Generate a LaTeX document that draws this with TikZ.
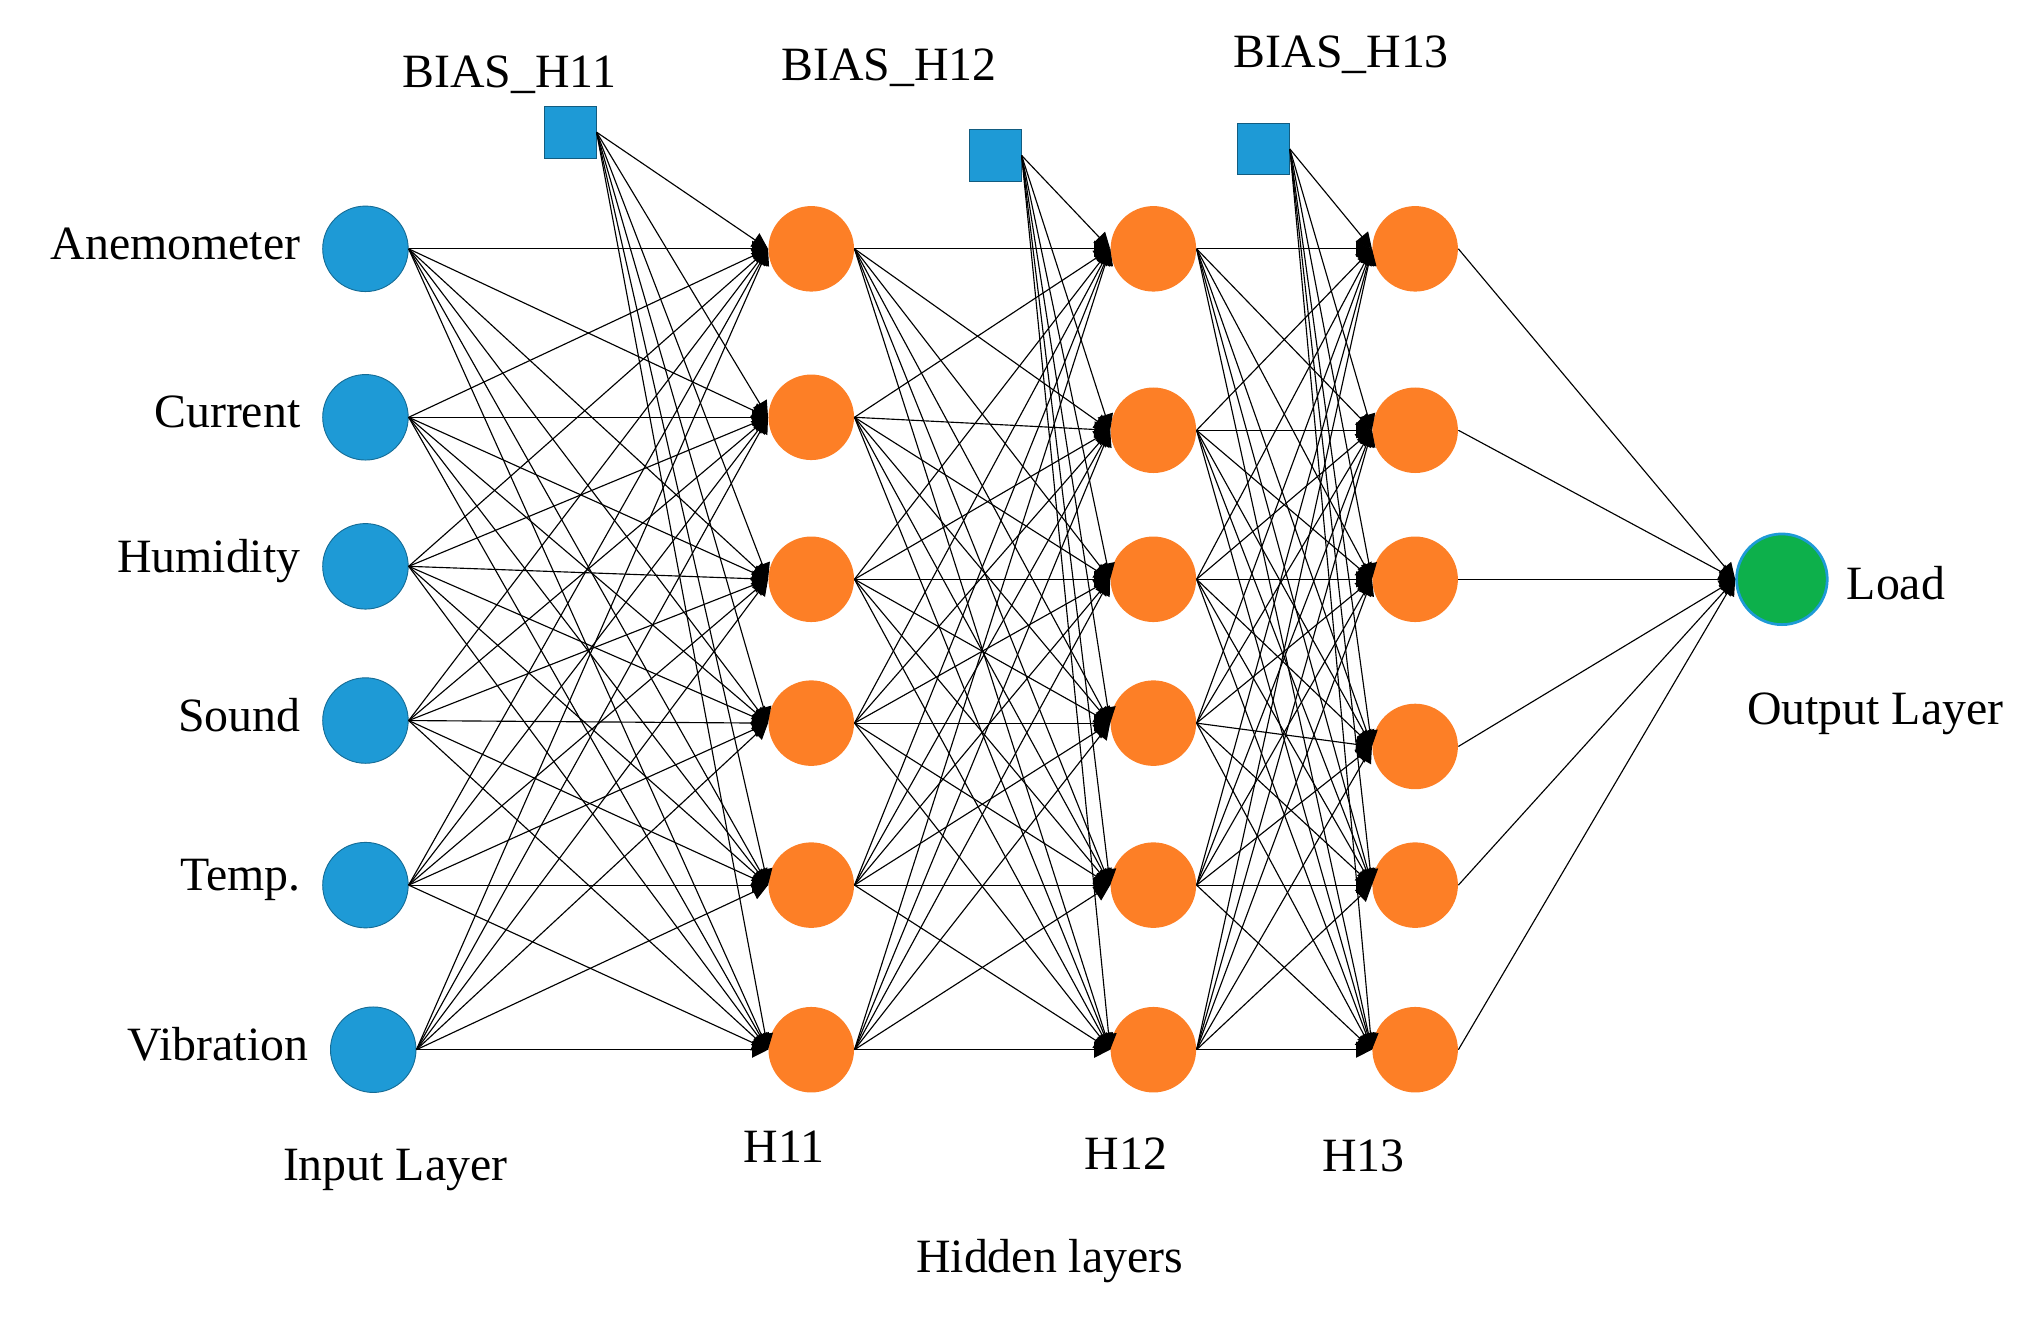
\documentclass[tikz,border=0pt]{standalone}
\usepackage{fontspec}
\setmainfont{Liberation Serif}
\usetikzlibrary{arrows.meta}
\definecolor{cblue}{HTML}{1E9AD6}
\definecolor{corange}{HTML}{FD7F26}
\definecolor{cgreen}{HTML}{0DB04B}
\begin{document}
\begin{tikzpicture}[x=0.02cm,y=-0.02cm,
  inp/.style={circle,fill=cblue,draw=cblue!70!black,minimum size=1.32cm,inner sep=0},
  hid/.style={circle,fill=corange,minimum size=1.32cm,inner sep=0},
  bias/.style={rectangle,fill=cblue,draw=cblue!60!black,minimum size=0.8cm,inner sep=0},
  lab/.style={font=\fontsize{21}{24}\selectfont},
  con/.style={line width=0.5pt,-{Triangle[length=7pt,width=7pt]}}]
\useasboundingbox (0,0) rectangle (1568,1018);
% input
\foreach \i/\y/\x/\t in {1/192/282/Anemometer,2/322/282/Current,3/437/282/Humidity,4/556/282/Sound,5/683/282/Temp.,6/810/288/Vibration}{
  \node[inp] (i\i) at (\x,\y) {};
  \node[lab,anchor=east] at (\x-44,\y-4) {\t};
}
\foreach \i/\y in {1/192,2/322,3/447,4/558,5/683,6/810} \node[hid] (a\i) at (626,\y) {};
\foreach \i/\y in {1/192,2/332,3/447,4/558,5/683,6/810} \node[hid] (b\i) at (890,\y) {};
\foreach \i/\y in {1/192,2/332,3/447,4/576,5/683,6/810} \node[hid] (c\i) at (1092,\y) {};
\node[circle,fill=cgreen,draw=cblue,line width=1.2pt,minimum size=1.4cm,inner sep=0] (out) at (1375,447) {};
\node[bias] (s1) at (440,102) {};
\node[bias] (s2) at (768,120) {};
\node[bias] (s3) at (975,115) {};
% labels
\node[lab] at (393,58) {BIAS\_H11};
\node[lab] at (686,52) {BIAS\_H12};
\node[lab] at (1035,42) {BIAS\_H13};
\node[lab] at (1463,450) {Load};
\node[lab] at (1447,551) {Output Layer};
\node[lab] at (305,903) {Input Layer};
\node[lab] at (605,885) {H11};
\node[lab] at (869,890) {H12};
\node[lab] at (1052,892) {H13};
\node[lab] at (810,973) {Hidden layers};
% connections
\foreach \j in {1,...,6}{
  \foreach \i in {1,...,6}{
    \draw[con] (i\i.east) -- (a\j.west);
    \draw[con] (a\i.east) -- (b\j.west);
    \draw[con] (b\i.east) -- (c\j.west);
  }
  \draw[con] (s1.east) -- (a\j.west);
  \draw[con] (s2.east) -- (b\j.west);
  \draw[con] (s3.east) -- (c\j.west);
  \draw[con] (c\j.east) -- (out.west);
}
\end{tikzpicture}
\end{document}
